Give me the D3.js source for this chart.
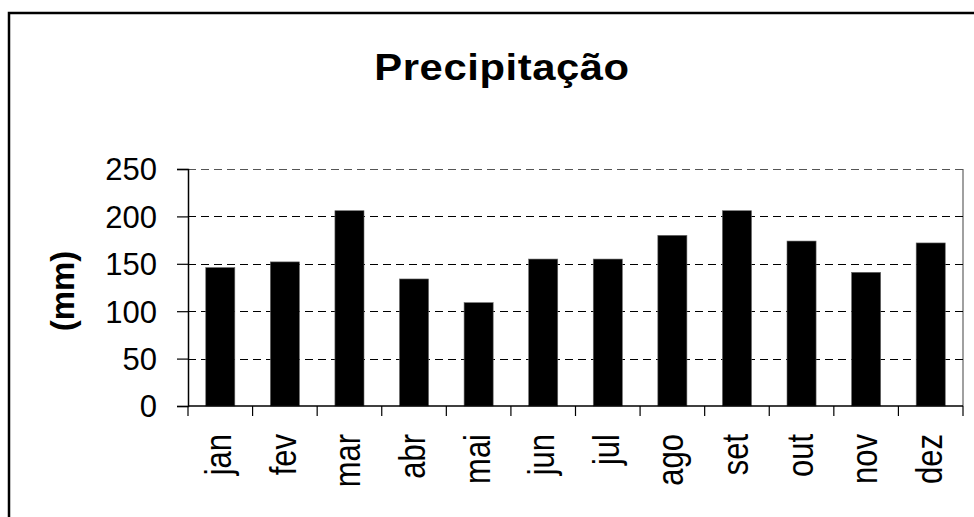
<!DOCTYPE html>
<html>
<head>
<meta charset="utf-8">
<script src="https://cdn.jsdelivr.net/npm/d3@7"></script>
<style>
  body { margin: 0; background: white; }
  text { font-family: "Liberation Sans", Arial, sans-serif; fill: black; }
</style>
</head>
<body>
<script>
var months = ["jan", "fev", "mar", "abr", "mai", "jun", "jul", "ago", "set", "out", "nov", "dez"]
var rain = [146, 152, 206, 134, 109, 155, 155, 180, 206, 174, 141, 172]
var yTicks = [0, 50, 100, 150, 200, 250]

var width = 974
var height = 517
var plotLeft = 188, plotRight = 963, plotTop = 169, plotBottom = 406

var svg = d3.select("body").append("svg")
   .attr("width", width)
   .attr("height", height)

// outer frame (runs off the right and bottom of the picture)
svg.append("rect")
   .attr("x", 9).attr("y", 13)
   .attr("width", 980).attr("height", 530)
   .style("fill", "white")
   .style("stroke", "black")
   .style("stroke-width", 2.5)

var x = d3.scaleBand().domain(months).range([plotLeft, plotRight]).paddingInner(0.55).paddingOuter(0.275)
var xEdges = d3.scaleLinear().domain([0, months.length]).range([plotLeft, plotRight])
var y = d3.scaleLinear().domain([0, 250]).range([plotBottom, plotTop])

// plot area right edge
svg.append("line")
   .attr("x1", plotRight).attr("x2", plotRight)
   .attr("y1", plotTop).attr("y2", plotBottom)
   .style("stroke", "#808080")
   .style("stroke-width", 1.5)

// dashed grid
svg.selectAll("line.grid")
   .data(yTicks.slice(1))
   .enter().append("line")
   .attr("class", "grid")
   .attr("x1", plotLeft).attr("x2", plotRight)
   .attr("y1", function (d) { return Math.round(y(d)) + 0.5; })
   .attr("y2", function (d) { return Math.round(y(d)) + 0.5; })
   .style("stroke", function (d) { return d == 250 ? "#555" : "black"; })
   .style("stroke-width", 1)
   .style("stroke-dasharray", "8,5")

// bars
svg.selectAll("rect.bar")
   .data(rain)
   .enter().append("rect")
   .attr("class", "bar")
   .attr("x", function (d, i) { return x(months[i]); })
   .attr("y", function (d) { return y(d); })
   .attr("width", x.bandwidth())
   .attr("height", function (d) { return plotBottom - y(d); })
   .style("fill", "black")
   .style("stroke", "#666")
   .style("stroke-width", 0.6)

// y axis
var yAxis = svg.append("g")
   .attr("transform", "translate(" + plotLeft + ",0)")
   .call(d3.axisLeft(y).tickValues(yTicks).tickSize(11).tickPadding(20))
yAxis.select(".domain").style("stroke", "black").style("stroke-width", 1.5)
yAxis.selectAll(".tick line").style("stroke", "black").style("stroke-width", 1.2)
yAxis.selectAll("text").style("font-size", "31px").attr("dy", "0.35em")

// x axis: ticks at band edges, labels rotated
var xg = svg.append("g").attr("transform", "translate(0," + plotBottom + ")")
xg.append("line")
   .attr("x1", plotLeft).attr("x2", plotRight)
   .style("stroke", "black").style("stroke-width", 1.5)
xg.selectAll("line.tk")
   .data(d3.range(months.length + 1))
   .enter().append("line")
   .attr("class", "tk")
   .attr("x1", function (d) { return xEdges(d); })
   .attr("x2", function (d) { return xEdges(d); })
   .attr("y1", 0).attr("y2", 10)
   .style("stroke", "black").style("stroke-width", 1.2)
xg.selectAll("text")
   .data(months)
   .enter().append("text")
   .attr("transform", function (d) {
      return "translate(" + (x(d) + x.bandwidth() / 2 + 11) + ",28) rotate(-90) scale(1,1.18)";
   })
   .attr("text-anchor", "end")
   .style("font-size", "31px")
   .text(function (d) { return d; })

// title
svg.append("text")
   .attr("transform", "translate(502,80) scale(1.13,1)")
   .attr("text-anchor", "middle")
   .style("font-size", "37px")
   .style("font-weight", "bold")
   .style("letter-spacing", "0.5px")
   .text("Precipitação")

// y label
svg.append("text")
   .attr("transform", "translate(" + 74 + "," + 291 + ") rotate(-90)")
   .attr("text-anchor", "middle")
   .style("font-size", "33px")
   .style("font-weight", "bold")
   .text("(mm)")
</script>
</body>
</html>
